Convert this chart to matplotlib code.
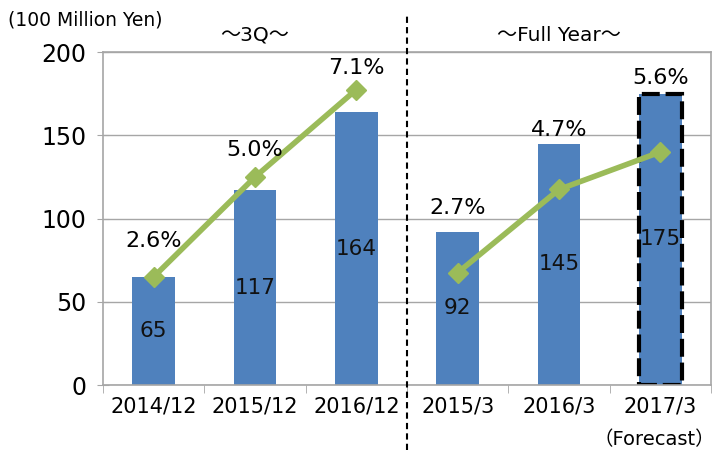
import matplotlib
matplotlib.use("Agg")
import matplotlib.pyplot as plt
import matplotlib.transforms as mtransforms

plt.rcParams['font.family'] = ['DejaVu Sans', 'Noto Sans CJK JP']

categories = ["2014/12", "2015/12", "2016/12", "2015/3", "2016/3", "2017/3"]
sales = [65, 117, 164, 92, 145, 175]
margin_pct = [2.6, 5.0, 7.1, 2.7, 4.7, 5.6]
groups = [[0, 1, 2], [3, 4, 5]]
forecast_idx = 5

bar_color = "#4F81BD"
line_color = "#9BBB59"
grid_color = "#A6A6A6"

fig = plt.figure(figsize=(7.17, 4.53), dpi=100)
ax = fig.add_axes([0.1437, 0.150, 0.848, 0.735])

x = list(range(len(categories)))
bars = ax.bar(x, sales, width=0.42, color=bar_color, zorder=2)
bars[forecast_idx].set_edgecolor("black")
bars[forecast_idx].set_linewidth(3)
bars[forecast_idx].set_linestyle((0, (4.3, 1.4)))

for xi, v in zip(x, sales):
    ax.text(xi, v / 2, str(v), ha="center", va="center", fontsize=15.5, color="#111111", zorder=4)

ax.set_xlim(-0.5, len(categories) - 0.5)
ax.set_ylim(0, 200)
ax.set_yticks([0, 50, 100, 150, 200])
ax.tick_params(axis="y", labelsize=17, length=8, direction="inout", color=grid_color, pad=8)
ax.set_xticks(x)
ax.set_xticklabels(categories)
ax.tick_params(axis="x", which="major", length=0, labelsize=15, pad=8)
ax.set_xticks([i - 0.5 for i in range(len(categories) + 1)], minor=True)
ax.tick_params(axis="x", which="minor", length=6, color=grid_color)
ax.grid(axis="y", color=grid_color, linewidth=1, zorder=0)
ax.set_axisbelow(True)
for s in ax.spines.values():
    s.set_color(grid_color)
    s.set_linewidth(1.2)

ax2 = ax.twinx()
ax2.set_ylim(0, 8)
ax2.axis("off")
for g in groups:
    ax2.plot([x[i] for i in g], [margin_pct[i] for i in g], color=line_color,
             linewidth=4, marker="D", markersize=10, zorder=3)

# label offset in pixels above the higher of bar top and line point
label_offsets = [36, 27, 22, 24, 14, 16]
for i, p in enumerate(margin_pct):
    top = max(p, sales[i] / 25.0)
    ax2.annotate(f"{p:.1f}%", (x[i], top), xytext=(0, label_offsets[i]),
                 textcoords="offset pixels", ha="center", va="center", fontsize=16)

# divider between 3Q and full year
trans = mtransforms.blended_transform_factory(ax.transData, ax.transAxes)
ax.plot([2.5, 2.5], [-0.195, 1.11], transform=trans, color="black",
        linestyle=(0, (3, 2)), linewidth=1.5, clip_on=False, zorder=5)

fig.text(0.011, 0.955, "(100 Million Yen)", fontsize=13.5, ha="left", va="center")
ax.text(1, 1.05, "～3Q～", transform=trans, fontsize=14.5, ha="center", va="center")
ax.text(4, 1.05, "～Full Year～", transform=trans, fontsize=14.5, ha="center", va="center")
fig.text(0.997, 0.03, "（Forecast）", fontsize=14, ha="right", va="center")

fig.savefig("out.png", dpi=100)
